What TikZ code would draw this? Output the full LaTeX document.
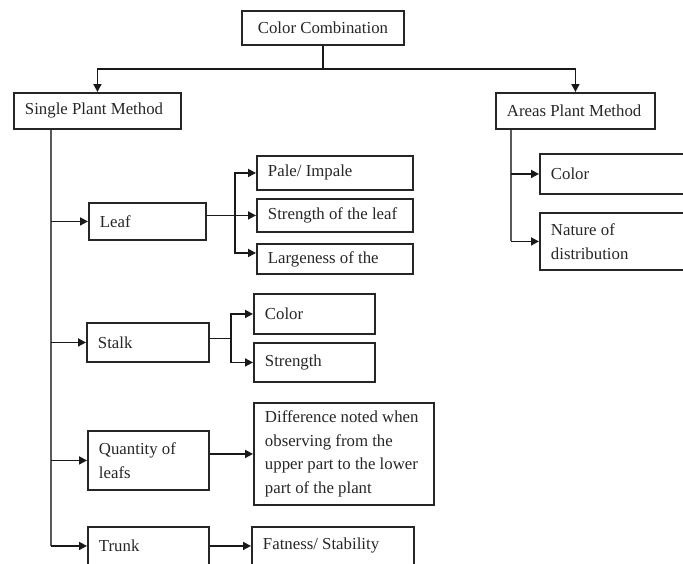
\documentclass[tikz,border=0pt]{standalone}
\usepackage{fontspec}
\setmainfont{Liberation Serif}
\usetikzlibrary{positioning,arrows.meta}

\begin{document}
\begin{tikzpicture}[
  x=1pt, y=-1pt,
  font=\fontsize{16.8}{23.5}\selectfont,
  box/.style={rectangle, draw=black!85, line width=1.9pt, anchor=north west,
              inner xsep=11pt, inner ysep=0pt, align=flush left, text=black!85},
  ctr/.style={box, align=flush center},
  arr/.style={-{Triangle[length=8pt,width=8pt]}, draw=black!90, line width=1.7pt},
  stem/.style={draw=black!65, line width=2pt}
]
\useasboundingbox (0,0) rectangle (683,563);
\clip (0,0) rectangle (683,563);

\node[ctr] (cc) at (241,10) [text width=140pt, minimum height=34pt] {Color Combination};
\node[box] (spm) at (13,92) [text width=145pt, minimum height=36pt] {Single Plant Method};
\node[box] (apm) at (495,92) [text width=137pt, minimum height=36pt] {Areas Plant Method};

\node[box] (leaf)  at (88,202)  [text width=95pt,  minimum height=37pt] {Leaf};
\node[box] (pale)  at (256,155) [text width=134pt, minimum height=34pt] {Pale/ Impale};
\node[box] (lstr)  at (256,198) [text width=134pt, minimum height=33pt] {Strength of the leaf};
\node[box] (large) at (256,243) [text width=134pt, minimum height=30pt] {Largeness of the};

\node[box] (stalk) at (86,322)  [text width=100pt, minimum height=39pt] {Stalk};
\node[box] (scol)  at (253,293) [text width=99pt,  minimum height=40pt] {Color};
\node[box] (sstr)  at (253,342) [text width=99pt,  minimum height=39pt] {Strength};

\node[box] (qty)   at (87,430)  [text width=99pt,  minimum height=59pt] {Quantity of\\leafs};
\node[box] (diff)  at (253,402) [text width=158pt, minimum height=102pt]
  {Difference noted when\\observing from the\\upper part to the lower\\part of the plant};

\node[box] (trunk) at (87,526)  [text width=99pt,  minimum height=38pt] {Trunk};
\node[box] (fat)   at (251,526) [text width=140pt, minimum height=38pt] {Fatness/ Stability};

\node[box] (acol)  at (539,153) [text width=128pt, minimum height=40pt] {Color};
\node[box] (nat)   at (539,212) [text width=128pt, minimum height=57pt] {Nature of\\distribution};

\draw[arr] (cc.south) -- ++(0,23) -| (spm.north);
\draw[arr] (cc.south) -- ++(0,23) -| (apm.north);

\coordinate (sroot) at ([xshift=38pt]spm.south west);
\draw[stem] (sroot) -- (sroot |- trunk.west);
\draw[arr] (sroot |- leaf.west) -- (leaf.west);
\draw[arr] (sroot |- stalk.west) -- (stalk.west);
\draw[arr] (sroot |- qty.west) -- (qty.west);
\draw[arr] (sroot |- trunk.west) -- (trunk.west);

\draw[arr] (leaf.east |- lstr.west) -- (lstr.west);
\draw[arr] (leaf.east |- lstr.west) -- ++(28,0) |- (pale.west);
\draw[arr] (leaf.east |- lstr.west) -- ++(28,0) |- ([yshift=6pt]large.west);

\draw[arr] ([yshift=4pt]stalk.east) -- ++(21,0) |- (scol.west);
\draw[arr] ([yshift=4pt]stalk.east) -- ++(21,0) |- (sstr.west);

\draw[arr] (qty.east |- diff.west) -- (diff.west);
\draw[arr] (trunk.east |- fat.west) -- (fat.west);

\coordinate (aroot) at ([xshift=16pt]apm.south west);
\draw[stem] (aroot) -- (aroot |- nat.west);
\draw[arr] (aroot |- acol.west) -- (acol.west);
\draw[arr] (aroot |- nat.west) -- (nat.west);
\end{tikzpicture}
\end{document}
